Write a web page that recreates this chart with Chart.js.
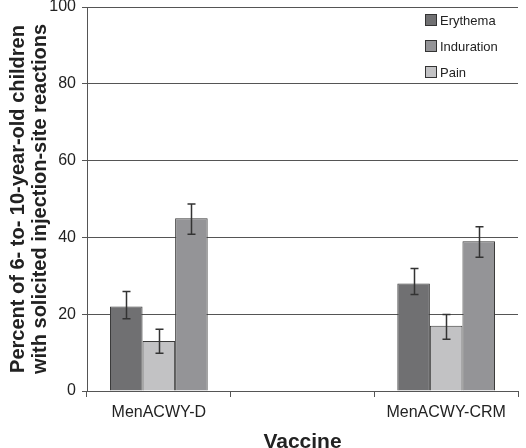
<!DOCTYPE html>
<html>
<head>
<meta charset="utf-8">
<script src="https://cdn.jsdelivr.net/npm/chart.js@4/dist/chart.umd.min.js"></script>
<style>
  html, body { margin: 0; padding: 0; background: #fff; }
  #wrap { width: 526px; height: 448px; }
</style>
</head>
<body>
<div id="wrap"><canvas id="c" width="526" height="448"></canvas></div>
<script>
const categories = ["MenACWY-D", "", "MenACWY-CRM"];

const erythema = [22, null, 28];
const erythemaLow = [18.8, null, 25.1];
const erythemaHigh = [25.9, null, 31.9];

const pain = [13, null, 17];
const painLow = [9.8, null, 13.5];
const painHigh = [16.1, null, 19.9];

const induration = [45, null, 39];
const indurationLow = [40.8, null, 34.8];
const indurationHigh = [48.7, null, 42.8];

const yTicks = [0, 20, 40, 60, 80, 100];

const FONT = "'Liberation Sans', Arial, sans-serif";
const LINE = "#555";
const INK = "#222";

// 오차막대: 각 데이터셋의 low/high 를 y 스케일로 변환해서 그림
const errorBars = {
  id: "errorBars",
  afterDatasetsDraw(chart) {
    const ctx = chart.ctx;
    const y = chart.scales.y;
    ctx.save();
    ctx.strokeStyle = "#333";
    ctx.lineWidth = 1.5;
    chart.data.datasets.forEach((ds, i) => {
      const meta = chart.getDatasetMeta(i);
      meta.data.forEach((bar, j) => {
        if (ds.data[j] == null) return;
        const x = Math.round(bar.x) + 0.5;
        const top = y.getPixelForValue(ds.high[j]);
        const bot = y.getPixelForValue(ds.low[j]);
        ctx.beginPath();
        ctx.moveTo(x, top); ctx.lineTo(x, bot);
        ctx.moveTo(x - 4, top); ctx.lineTo(x + 4, top);
        ctx.moveTo(x - 4, bot); ctx.lineTo(x + 4, bot);
        ctx.stroke();
      });
    });
    ctx.restore();
  },
};

// 범례: 차트 영역 오른쪽 위, 세로로, 이름순
const boxLegend = {
  id: "boxLegend",
  afterDraw(chart) {
    const ctx = chart.ctx;
    const area = chart.chartArea;
    const items = chart.data.datasets.slice().sort((a, b) => a.label.localeCompare(b.label));
    ctx.save();
    ctx.font = "13px " + FONT;
    ctx.textBaseline = "middle";
    items.forEach((ds, i) => {
      const x = area.right - 93;
      const cy = area.top + 13 + i * 26;
      ctx.fillStyle = ds.backgroundColor;
      ctx.fillRect(x, cy - 6, 12, 12);
      ctx.strokeStyle = "#333";
      ctx.lineWidth = 1;
      ctx.strokeRect(x + 0.5, cy - 5.5, 11, 11);
      ctx.fillStyle = INK;
      ctx.fillText(ds.label, x + 15, cy + 1);
    });
    ctx.restore();
  },
};

const bar = (label, data, low, high, color) => ({
  label, data, low, high,
  backgroundColor: color,
  borderColor: "#3a3a3a",
  borderWidth: 1,
  categoryPercentage: 0.68,
  barPercentage: 1,
});

new Chart(document.getElementById("c"), {
  type: "bar",
  data: {
    labels: categories,
    datasets: [
      bar("Erythema", erythema, erythemaLow, erythemaHigh, "#707072"),
      bar("Pain", pain, painLow, painHigh, "#c2c2c4"),
      bar("Induration", induration, indurationLow, indurationHigh, "#949497"),
    ],
  },
  options: {
    responsive: false,
    animation: false,
    layout: { padding: { top: 7, right: 8, left: 0, bottom: 0 } },
    plugins: { legend: { display: false }, tooltip: { enabled: false } },
    scales: {
      x: {
        offset: true,
        grid: { display: true, offset: true, drawOnChartArea: false, color: LINE, tickLength: 6 },
        border: { display: true, color: LINE },
        ticks: { color: INK, font: { family: FONT, size: 16 }, padding: 6 },
        title: { display: true, text: "Vaccine", color: INK, font: { family: FONT, size: 21, weight: "bold", lineHeight: 1 }, padding: { top: 0, bottom: -5 } },
        afterFit: (s) => { s.height = 57; s.paddingLeft = 0; s.paddingRight = 0; },
      },
      y: {
        min: 0, max: 100,
        afterBuildTicks: (s) => { s.ticks = yTicks.map((v) => ({ value: v })); },
        grid: { color: LINE, tickLength: 5 },
        border: { display: true, color: LINE },
        ticks: { color: INK, font: { family: FONT, size: 16 }, padding: 6 },
        title: {
          display: true,
          text: ["Percent of 6- to- 10-year-old children", "with solicited injection-site reactions"],
          color: INK,
          font: { family: FONT, size: 20, weight: "bold", lineHeight: 1.1 },
          padding: { top: 7, bottom: 2 },
        },
        afterFit: (s) => { s.width = 87; s.paddingTop = 0; s.paddingBottom = 0; },
      },
    },
  },
  plugins: [errorBars, boxLegend],
});
</script>
</body>
</html>
